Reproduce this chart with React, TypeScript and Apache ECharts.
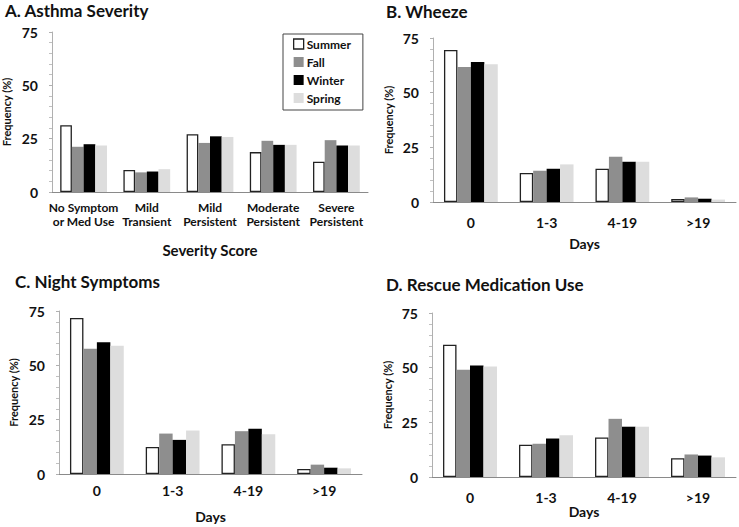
import React, { useEffect, useRef } from "react";
import * as echarts from "echarts";

const seasons = ["Summer", "Fall", "Winter", "Spring"];
const severityCats = ["No Symptom\nor Med Use", "Mild\nTransient", "Mild\nPersistent", "Moderate\nPersistent", "Severe\nPersistent"];
const dayCats = ["0", "1-3", "4-19", ">19"];

// Panel A: Asthma severity (per season, per category)
const severitySummer = [31.3, 10.3, 27.1, 18.7, 14.2];
const severityFall = [21.2, 9.2, 23.0, 24.0, 24.3];
const severityWinter = [22.4, 9.6, 26.1, 22.1, 21.8];
const severitySpring = [21.8, 10.7, 25.8, 22.1, 21.8];

// Panel B: Wheeze
const wheezeSummer = [69.5, 13.3, 15.2, 1.4];
const wheezeFall = [61.7, 14.3, 20.7, 2.1];
const wheezeWinter = [64.0, 15.2, 18.4, 1.5];
const wheezeSpring = [63.0, 17.2, 18.4, 1.1];

// Panel C: Night symptoms
const nightSummer = [71.8, 12.4, 13.7, 2.3];
const nightFall = [57.6, 18.6, 19.7, 4.3];
const nightWinter = [60.6, 15.7, 20.8, 2.9];
const nightSpring = [59.0, 20.0, 18.3, 2.6];

// Panel D: Rescue medication use
const rescueSummer = [60.5, 14.8, 18.1, 8.6];
const rescueFall = [49.1, 15.2, 26.6, 10.3];
const rescueWinter = [51.0, 17.6, 23.0, 9.8];
const rescueSpring = [50.5, 19.1, 23.0, 9.0];

const yTicks = [0, 25, 50, 75];

const FONT = "Lato, 'Open Sans', sans-serif";
const TXT = "#111";
const seasonStyles = [
  { color: "#ffffff", borderColor: "#222", borderWidth: 1.3 },
  { color: "#8e8e8e" },
  { color: "#000000" },
  { color: "#dddddd" },
];

export default function App() {
  const ref = useRef<HTMLDivElement>(null);
  useEffect(() => {
    if (!ref.current) return;
    const chart = echarts.init(ref.current, undefined, { renderer: "svg" });

    const grids = [
      { left: 48, top: 32, width: 320, height: 160 },
      { left: 433, top: 38, width: 303, height: 164 },
      { left: 59, top: 311, width: 303, height: 163 },
      { left: 432, top: 313, width: 304, height: 164 },
    ];
    const panels = [
      { cats: severityCats, data: [severitySummer, severityFall, severityWinter, severitySpring], xName: "Severity Score", labelMargin: 8, labelSize: 12, nameGap: 50, nameSize: 15, gap: "26%", yGap: 40 },
      { cats: dayCats, data: [wheezeSummer, wheezeFall, wheezeWinter, wheezeSpring], xName: "Days", labelMargin: 13, labelSize: 14, nameGap: 34, nameSize: 14, gap: "29%", yGap: 39 },
      { cats: dayCats, data: [nightSummer, nightFall, nightWinter, nightSpring], xName: "Days", labelMargin: 9, labelSize: 14, nameGap: 35, nameSize: 14, gap: "29%", yGap: 40 },
      { cats: dayCats, data: [rescueSummer, rescueFall, rescueWinter, rescueSpring], xName: "Days", labelMargin: 13, labelSize: 14, nameGap: 25, nameSize: 14, gap: "29%", yGap: 39 },
    ];
    const titles = [
      { text: "A. Asthma Severity", left: 5, top: 2 },
      { text: "B. Wheeze", left: 386, top: 3 },
      { text: "C. Night Symptoms", left: 15, top: 273 },
      { text: "D. Rescue Medication Use", left: 386, top: 276 },
    ];

    const series: any[] = [];
    panels.forEach((p, pi) => {
      p.data.forEach((vals, si) => {
        series.push({
          type: "bar",
          name: seasons[si],
          xAxisIndex: pi,
          yAxisIndex: pi,
          data: vals,
          barGap: "0%",
          barCategoryGap: p.gap,
          itemStyle: seasonStyles[si],
        });
      });
    });

    chart.setOption({
      animation: false,
      backgroundColor: "#ffffff",
      textStyle: { fontFamily: FONT },
      title: titles.map((t) => ({
        text: t.text,
        left: t.left,
        top: t.top,
        padding: 0,
        textStyle: { fontFamily: FONT, fontWeight: "bold", fontSize: 17, color: TXT },
      })),
      legend: {
        data: seasons.map((s, i) => ({ name: s, itemStyle: seasonStyles[i] })),
        orient: "vertical",
        left: 283,
        top: 34,
        width: 78,
        itemWidth: 10,
        itemHeight: 10,
        itemGap: 6,
        icon: "rect",
        padding: [4, 12, 6, 10],
        borderColor: "#444",
        borderWidth: 1,
        selectedMode: false,
        textStyle: { fontFamily: FONT, fontWeight: "bold", fontSize: 12, color: TXT, padding: [0, 0, 0, -2] },
      },
      grid: grids,
      xAxis: panels.map((p, i) => ({
        type: "category",
        gridIndex: i,
        data: p.cats,
        name: p.xName,
        nameLocation: "middle",
        nameGap: p.nameGap,
        nameTextStyle: { fontFamily: FONT, fontWeight: "bold", fontSize: p.nameSize, color: TXT },
        axisLine: { lineStyle: { color: "#8a8a8a", width: 1 } },
        axisTick: { show: false },
        axisLabel: {
          interval: 0,
          margin: p.labelMargin,
          fontFamily: FONT,
          fontWeight: "bold",
          fontSize: p.labelSize,
          lineHeight: 14,
          color: TXT,
        },
      })),
      yAxis: panels.map((p, i) => ({
        type: "value",
        gridIndex: i,
        min: yTicks[0],
        max: yTicks[yTicks.length - 1],
        interval: 25,
        name: "Frequency (%)",
        nameLocation: "middle",
        nameGap: p.yGap,
        nameTextStyle: { fontFamily: FONT, fontWeight: "bold", fontSize: 11, color: TXT },
        axisLine: { show: true, lineStyle: { color: "#b0b0b0", width: 1 } },
        axisTick: { show: true, length: 3, lineStyle: { color: "#b0b0b0" } },
        minorTick: { show: true, splitNumber: 5, length: 3, lineStyle: { color: "#c0c0c0" } },
        splitLine: { show: false },
        axisLabel: { fontFamily: FONT, fontWeight: "bold", fontSize: 14, color: TXT, margin: 14 },
      })),
      series,
    });
    return () => chart.dispose();
  }, []);
  return <div ref={ref} style={{ width: 739, height: 527, position: "absolute", left: 0, top: 0 }} />;
}
